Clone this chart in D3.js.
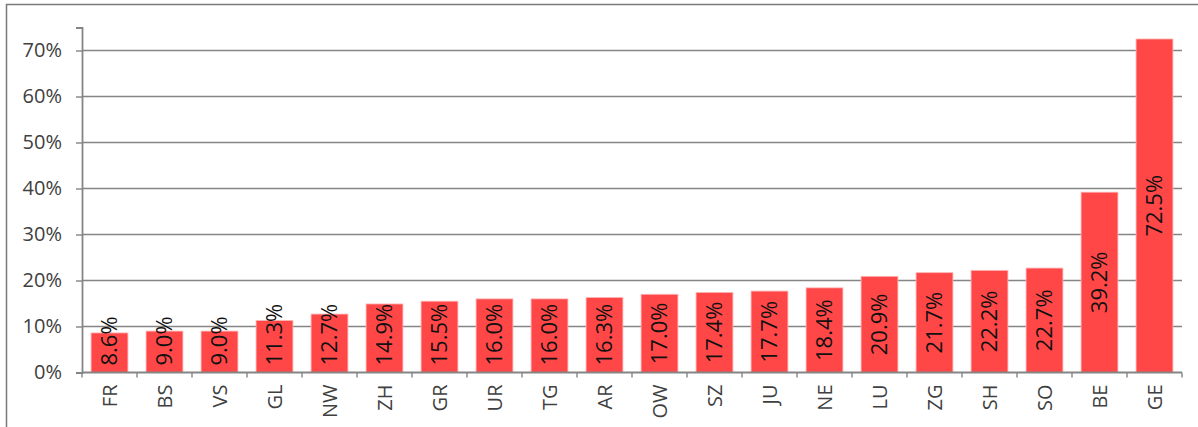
<!DOCTYPE html>
<html>
<head>
<meta charset="utf-8">
<script src="https://cdn.jsdelivr.net/npm/d3@7"></script>
<style>
  body { margin: 0; background: #fff; }
  text { font-family: "Open Sans", sans-serif; }
</style>
</head>
<body>
<div id="contents"></div>
<script>
var cantons = ["FR","BS","VS","GL","NW","ZH","GR","UR","TG","AR","OW","SZ","JU","NE","LU","ZG","SH","SO","BE","GE"];
var shares = [8.6, 9.0, 9.0, 11.3, 12.7, 14.9, 15.5, 16.0, 16.0, 16.3, 17.0, 17.4, 17.7, 18.4, 20.9, 21.7, 22.2, 22.7, 39.2, 72.5];
var yTicks = [0, 10, 20, 30, 40, 50, 60, 70];

function drawChart(){
  var width = 1198, height = 427;
  var left = 82, right = 1182, top = 27.5, bottom = 372.5;

  var canvas = d3.select("#contents")
    .append("svg")
    .attr("width", width)
    .attr("height", height);

  // frame (top and left only visible)
  canvas.append("path")
    .attr("d", "M6.5,427 L6.5,4.5 L1198,4.5")
    .attr("fill", "none")
    .attr("stroke", "#7a7a7a")
    .attr("stroke-width", 1.5);

  var x = d3.scaleBand()
    .domain(cantons)
    .range([left, right])
    .paddingInner(0.33)
    .paddingOuter(0.165);

  var y = d3.scaleLinear()
    .domain([0, 75])
    .range([bottom, top]);

  // gridlines
  canvas.append("g")
    .selectAll("line")
    .data(yTicks.slice(1))
    .enter()
      .append("line")
      .attr("x1", left)
      .attr("x2", right)
      .attr("y1", function(d){ return y(d); })
      .attr("y2", function(d){ return y(d); })
      .attr("stroke", "#858585")
      .attr("stroke-width", 1.4);

  // bars
  canvas.append("g")
    .selectAll("rect")
    .data(shares)
    .enter()
      .append("rect")
      .attr("x", function(d, i){ return x(cantons[i]); })
      .attr("y", function(d){ return y(d); })
      .attr("width", x.bandwidth())
      .attr("height", function(d){ return y(0) - y(d); })
      .attr("fill", "#ff4747")
      .attr("stroke", "#ffb3b3")
      .attr("stroke-width", 0.8);

  // y axis
  var yAxis = d3.axisLeft(y)
    .tickValues(yTicks)
    .tickSize(6)
    .tickPadding(14)
    .tickFormat(function(d){ return d + "%"; });

  var gy = canvas.append("g")
    .attr("transform", "translate(" + left + ",0)")
    .call(yAxis);
  gy.select(".domain").attr("stroke", "#858585").attr("stroke-width", 1.8);
  gy.selectAll(".tick line").attr("stroke", "#858585").attr("stroke-width", 1.4);
  gy.selectAll(".tick text")
    .attr("fill", "#404040")
    .style("font-size", "20px")
    .style("font-family", "'Open Sans', sans-serif");

  // x axis: ticks on band boundaries
  var gx = canvas.append("g");
  gx.append("line")
    .attr("x1", left).attr("x2", right)
    .attr("y1", bottom).attr("y2", bottom)
    .attr("stroke", "#858585")
    .attr("stroke-width", 1.8);
  var bounds = cantons.map(function(c){ return x(c) - x.step() * x.paddingInner() / 2; });
  bounds.push(right);
  gx.selectAll(".btick")
    .data(bounds)
    .enter()
      .append("line")
      .attr("x1", function(d){ return d; })
      .attr("x2", function(d){ return d; })
      .attr("y1", bottom)
      .attr("y2", bottom + 5)
      .attr("stroke", "#858585")
      .attr("stroke-width", 1.4);

  gx.selectAll(".cat")
    .data(cantons)
    .enter()
      .append("text")
      .attr("class", "cat")
      .attr("transform", function(d){
        return "translate(" + (x(d) + x.bandwidth() / 2) + "," + (bottom + 12) + ") rotate(-90)";
      })
      .attr("dy", "0.35em")
      .attr("text-anchor", "end")
      .attr("fill", "#404040")
      .style("font-size", "20px")
      .text(function(d){ return d; });

  // value labels, centred in bar, kept above the axis
  var labels = canvas.append("g")
    .selectAll("text")
    .data(shares)
    .enter()
      .append("text")
      .attr("text-anchor", "middle")
      .attr("dy", "0.36em")
      .attr("fill", "#111")
      .style("font-size", "22px")
      .text(function(d){ return d.toFixed(1) + "%"; });

  labels.attr("transform", function(d, i){
    var len = this.getComputedTextLength();
    var cy = Math.min((y(d) + y(0)) / 2, bottom - 7 - len / 2);
    return "translate(" + (x(cantons[i]) + x.bandwidth() / 2) + "," + cy + ") rotate(-90)";
  });
}

drawChart();
</script>
</body>
</html>
